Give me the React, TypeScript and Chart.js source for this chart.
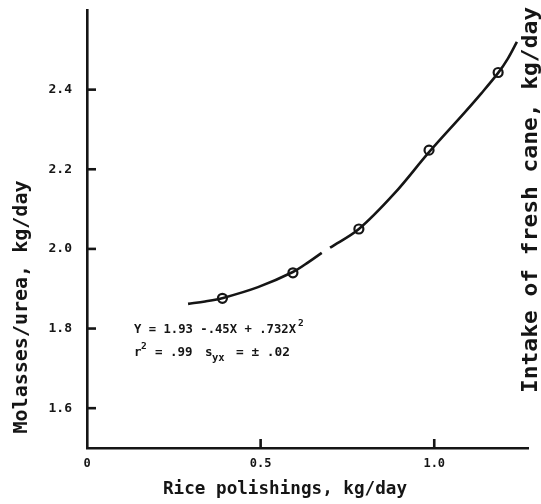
import React, { useEffect, useRef } from "react";
import { Chart, registerables } from "chart.js";

Chart.register(...registerables);

// Observed intake of molasses/urea against rice polishings offered
const xPolish = [0.39, 0.593, 0.783, 0.985, 1.184];
const yMolasses = [1.876, 1.94, 2.05, 2.248, 2.443];

// Fitted regression curve (null marks the small break in the drawn line)
const fitX = [0.291, 0.34, 0.392, 0.4925, 0.593, 0.64, 0.676, 0.688, 0.7, 0.783, 0.884, 0.985, 1.086, 1.135, 1.184, 1.212, 1.238];
const fitY = [1.862, 1.868, 1.877, 1.904, 1.942, 1.968, 1.99, null, 2.003, 2.05, 2.138, 2.243, 2.341, 2.39, 2.442, 2.478, 2.52];

const xTickValues = [0, 0.5, 1.0];
const yTickValues = [1.6, 1.8, 2.0, 2.2, 2.4];

const xTitle = "Rice polishings, kg/day";
const yTitle = "Molasses/urea, kg/day";
const sideTitle = "Intake of fresh cane, kg/day";
const eqLine1 = "Y = 1.93 -.45X + .732X";
const INK = "#151515";
const MONO = '"DejaVu Sans Mono", "Liberation Mono", monospace';

// Draws text squeezed or stretched horizontally to a given width
function fitText(ctx: CanvasRenderingContext2D, text: string, x: number, y: number, font: string, width?: number) {
  ctx.save();
  ctx.font = font;
  const w = ctx.measureText(text).width;
  const s = width ? width / w : 1;
  ctx.translate(x, y);
  ctx.scale(s, 1);
  ctx.fillText(text, 0, 0);
  ctx.restore();
}

const decorations = {
  id: "decorations",
  afterDraw(chart: any) {
    const { ctx, chartArea, scales } = chart;
    const xs = scales.x;
    const ys = scales.y;
    ctx.save();
    ctx.fillStyle = INK;

    // inward tick marks
    yTickValues.forEach((v) => {
      const py = ys.getPixelForValue(v);
      ctx.fillRect(chartArea.left, py - 1.3, 9, 2.6);
    });
    xTickValues.slice(1).forEach((v) => {
      const px = xs.getPixelForValue(v);
      ctx.fillRect(px - 1.3, chartArea.bottom - 9, 2.6, 9);
    });

    ctx.textBaseline = "alphabetic";
    ctx.textAlign = "left";

    // axis titles
    fitText(ctx, xTitle, 285 - 244 / 2, 494, `bold 18px ${MONO}`, 244);

    ctx.save();
    ctx.translate(27, 307 + 253 / 2);
    ctx.rotate(-Math.PI / 2);
    fitText(ctx, yTitle, 0, 0, `bold 20px ${MONO}`, 253);
    ctx.restore();

    ctx.save();
    ctx.translate(537, 393);
    ctx.rotate(-Math.PI / 2);
    fitText(ctx, sideTitle, 0, 0, `bold 21px ${MONO}`, 386);
    ctx.restore();

    // regression equation
    const f = `bold 12.5px ${MONO}`;
    const fs = `bold 9.5px ${MONO}`;
    fitText(ctx, eqLine1, 134, 333, f, 162);
    fitText(ctx, "2", 298, 326, fs);
    fitText(ctx, "r", 134, 356, f);
    fitText(ctx, "2", 141, 349, fs);
    fitText(ctx, "= .99", 155, 356, f);
    fitText(ctx, "s", 205, 356, f);
    fitText(ctx, "yx", 212, 361, `bold 10.5px ${MONO}`);
    fitText(ctx, "= ± .02", 236, 356, f, 54);

    ctx.restore();
  },
};

export default function App() {
  const ref = useRef<HTMLCanvasElement | null>(null);

  useEffect(() => {
    if (!ref.current) return;
    const points = xPolish.map((x, i) => ({ x, y: yMolasses[i] }));
    const curve = fitX.map((x, i) => ({ x, y: fitY[i] }));

    const chart = new Chart(ref.current, {
      type: "scatter",
      data: {
        datasets: [
          {
            label: "Observed",
            data: points,
            pointRadius: 4.5,
            pointBorderWidth: 2.2,
            pointBorderColor: INK,
            pointBackgroundColor: "rgba(255,255,255,0)",
            showLine: false,
          },
          {
            label: "Fitted",
            data: curve as any,
            showLine: true,
            spanGaps: false,
            pointRadius: 0,
            borderColor: INK,
            borderWidth: 2.6,
            tension: 0.35,
          },
        ],
      },
      plugins: [decorations],
      options: {
        responsive: false,
        devicePixelRatio: 1,
        animation: false,
        layout: { padding: { top: 10, right: 13, left: 0, bottom: 0 } },
        plugins: { legend: { display: false }, tooltip: { enabled: false } },
        scales: {
          x: {
            type: "linear",
            min: 0,
            max: 1.27,
            grid: { display: false, drawTicks: false },
            border: { display: true, color: INK, width: 2.6 },
            afterBuildTicks: (s: any) => {
              s.ticks = xTickValues.map((v) => ({ value: v }));
            },
            afterFit: (s: any) => {
              s.height = 56;
              s.paddingLeft = 0;
              s.paddingRight = 0;
            },
            ticks: {
              color: INK,
              font: { family: MONO, size: 12, weight: "bold" },
              padding: 9,
              maxRotation: 0,
              callback: (v: any) => (Number(v) === 0 ? "0" : Number(v).toFixed(1)),
            },
          },
          y: {
            type: "linear",
            min: 1.5,
            max: 2.6,
            grid: { display: false, drawTicks: false },
            border: { display: true, color: INK, width: 2.6 },
            afterBuildTicks: (s: any) => {
              s.ticks = yTickValues.map((v) => ({ value: v }));
            },
            afterFit: (s: any) => {
              s.width = 87;
              s.paddingTop = 0;
              s.paddingBottom = 0;
            },
            ticks: {
              color: INK,
              font: { family: MONO, size: 13, weight: "bold" },
              padding: 15,
              callback: (v: any) => Number(v).toFixed(1),
            },
          },
        },
      },
    });
    return () => chart.destroy();
  }, []);

  return (
    <div style={{ position: "fixed", left: 0, top: 0, width: 541, height: 504, background: "#fff" }}>
      <canvas ref={ref} width={541} height={504} style={{ display: "block" }} />
    </div>
  );
}
